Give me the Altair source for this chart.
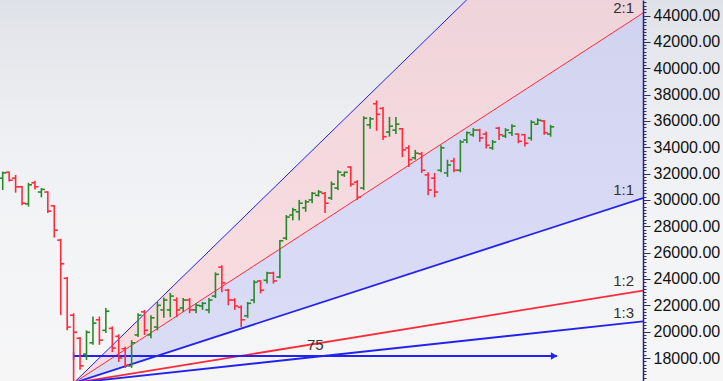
import altair as alt
import numpy as np
import pandas as pd

# ---- price bars (one per session, index counted from the swing low at 0) ----
first_bar = -11
opens = [31650, 32100, 31650, 31000, 29700, 31300, 30600, 30600, 29550, 26950,
         24050, 21250, 19500, 18300, 19150, 20900, 20100, 20250, 19650, 18700,
         17400, 19750, 21500, 19750, 20350, 21650, 21650, 22400, 21800, 22400,
         21650, 21950, 21650, 22700, 24900, 23150, 22400, 21850, 21200, 22400,
         23850, 23900, 24450, 24150, 27100, 28850, 29100, 29400, 30000, 30350,
         30500, 30150, 30900, 31900, 32500, 31350, 30900, 35700, 37300, 36950,
         35150, 35300, 35400, 33950, 33200, 33500, 31900, 31650, 32250, 32050,
         32950, 32250, 34550, 34950, 35300, 35000, 33950, 35450, 34850, 35100,
         35000, 34950, 34700, 35750, 36000, 35000]
highs = [32150, 32150, 31900, 31050, 31300, 31450, 30900, 30650, 29600, 27050,
         24150, 21400, 19600, 20100, 21150, 21150, 21800, 20400, 19800, 18850,
         19350, 21400, 21650, 21250, 22250, 22600, 22950, 22600, 22550, 22550,
         22150, 22250, 22550, 24500, 25050, 23250, 22550, 22000, 22250, 23900,
         23900, 24550, 24550, 26950, 28850, 29400, 30000, 30000, 30600, 30750,
         30600, 31400, 32250, 32150, 32550, 31500, 36350, 36300, 37550, 37050,
         36300, 36300, 35450, 34150, 33800, 33650, 32100, 32050, 34150, 33050,
         33200, 34550, 35200, 35450, 35400, 35200, 34550, 35550, 35450, 35750,
         35050, 35000, 36050, 36200, 36050, 35700]
lows = [30750, 31400, 30550, 29600, 29500, 30800, 30200, 29000, 27150, 21250,
        20100, 16100, 17100, 17850, 19000, 19000, 19900, 18450, 17700, 17250,
        17250, 19600, 19750, 19500, 20100, 21050, 21100, 21100, 21500, 21400,
        21400, 21650, 21400, 22550, 23000, 22000, 21650, 20350, 21050, 22150,
        22900, 23650, 23650, 24050, 26950, 28450, 28450, 29100, 29750, 30250,
        29000, 30000, 30750, 31750, 31000, 30000, 30750, 35400, 35250, 34550,
        34800, 35000, 33250, 32500, 33050, 32050, 30350, 30200, 32100, 31750,
        32100, 32100, 34300, 34800, 34400, 33900, 33800, 34550, 34700, 34850,
        34300, 34050, 34500, 35700, 34950, 34800]
closes = [32050, 31500, 31000, 29750, 31150, 31000, 30800, 29150, 27700, 25150,
          20350, 19950, 17400, 19950, 20650, 19350, 21550, 18750, 18000, 17450,
          19150, 21250, 20100, 21050, 22000, 22400, 22700, 21650, 22400, 21650,
          22000, 22150, 22400, 24350, 23700, 22400, 21950, 20900, 22150, 23750,
          23150, 24450, 23850, 26900, 28700, 29250, 29750, 29850, 30500, 30600,
          29750, 31200, 32100, 32100, 31200, 30200, 36200, 36150, 36500, 34800,
          35600, 35750, 33800, 33050, 33550, 32250, 30750, 30600, 33950, 32650,
          32250, 34400, 35100, 35300, 34700, 34150, 34400, 34950, 35300, 35600,
          34450, 34300, 35900, 36050, 35100, 35550]

# ---- Gann fan anchored at the swing low ----
fan_anchor_bar = 0
fan_anchor_price = 16100
fan_unit = 159  # price per bar on the 1:1 line
fan_names = ["3:1", "2:1", "1:1", "1:2", "1:3"]
fan_ratios = [3, 2, 1, 1 / 2, 1 / 3]
labelled_fans = ["2:1", "1:1", "1:2", "1:3"]
# vertical nudge of each fan label above its line end (pixels)
fan_label_dy = {"2:1": 3, "1:1": 0, "1:2": -2, "1:3": 0}

# ---- bar-count ruler ----
ruler_start, ruler_bars, ruler_price = 0, 75, 18150

# ---- visible window ----
K_MIN, K_MAX = -11.42, 88.33
P_MIN, P_MAX = 16254, 45177
W, H, AXIS_W = 643, 381, 80

BLUE = "#2323f0"
RED = "#ff2a3a"
GREEN = "#278a27"

xs = alt.Scale(domain=[K_MIN, K_MAX], nice=False, zero=False)
ys = alt.Scale(domain=[P_MIN, P_MAX], nice=False, zero=False)

axis_values = list(range(16250, 45001, 250))
y_axis = alt.Axis(
    orient="right", values=axis_values, zindex=2,
    labelExpr="datum.value % 2000 == 0 ? format(datum.value, '.2f') : ''",
    tickSize={"condition": {"test": "datum.value % 2000 == 0", "value": 7}, "value": 3},
    tickColor="#30305a", tickWidth=1, domainColor="#24248a", domainWidth=1.5,
    labelFont="Liberation Sans", labelFontSize=16, labelColor="#111111",
    labelPadding=3, labelOverlap=False, labelFlush=False, grid=False, title=None,
)


def X(field):
    return alt.X(field, type="quantitative", scale=xs, axis=None)


def Y(field):
    return alt.Y(field, type="quantitative", scale=ys, axis=y_axis)


def fan_at(ratio, kk):
    return fan_anchor_price + ratio * fan_unit * (kk - fan_anchor_bar)


bars = pd.DataFrame({
    "k": np.arange(first_bar, first_bar + len(opens)),
    "open": opens, "high": highs, "low": lows, "close": closes,
})
bars["kl"] = bars["k"] - 0.55
bars["kr"] = bars["k"] + 0.55
up = bars[bars["close"] >= bars["open"]]
down = bars[bars["close"] < bars["open"]]

bg = alt.Chart(pd.DataFrame({"a": [0]})).mark_rect(
    fill=alt.Gradient(
        gradient="linear", x1=0, x2=0, y1=0, y2=1,
        stops=[alt.GradientStop(color="#dfe2e8", offset=0),
               alt.GradientStop(color="#eceef1", offset=0.3),
               alt.GradientStop(color="#f3f4f6", offset=0.6),
               alt.GradientStop(color="#f6f6f7", offset=1)],
    )
).encode(x=alt.value(0), x2=alt.value(W + AXIS_W), y=alt.value(0), y2=alt.value(H))


def band(lo_ratio, hi_ratio, fill, opacity):
    df = pd.DataFrame({
        "k": [fan_anchor_bar, K_MAX],
        "lo": [fan_at(lo_ratio, fan_anchor_bar), fan_at(lo_ratio, K_MAX)],
        "hi": [fan_at(hi_ratio, fan_anchor_bar), fan_at(hi_ratio, K_MAX)],
    })
    return alt.Chart(df).mark_area(clip=True, fill=fill, fillOpacity=opacity).encode(
        x=X("k"), y=Y("lo"), y2="hi",
    )


def fan_line(ratio, color, width):
    df = pd.DataFrame({"k": [fan_anchor_bar, K_MAX],
                       "price": [fan_at(ratio, fan_anchor_bar), fan_at(ratio, K_MAX)]})
    return alt.Chart(df).mark_line(clip=True, color=color, strokeWidth=width).encode(
        x=X("k"), y=Y("price"),
    )


fan_styles = {"3:1": (BLUE, 1.0), "2:1": (RED, 1.0), "1:1": (BLUE, 1.8),
              "1:2": (RED, 1.8), "1:3": (BLUE, 1.8)}
fan_layers = [fan_line(r, *fan_styles[n]) for n, r in zip(fan_names, fan_ratios)]


def fan_label(name, ratio):
    df = pd.DataFrame({"name": [name], "k": [K_MAX], "price": [fan_at(ratio, K_MAX)]})
    return alt.Chart(df).mark_text(
        align="right", baseline="bottom", dx=-9, dy=fan_label_dy[name],
        font="Liberation Sans", fontSize=15, color="#333333",
    ).encode(x=X("k"), y=Y("price"), text="name:N")


fan_texts = [fan_label(n, r) for n, r in zip(fan_names, fan_ratios) if n in labelled_fans]


def ohlc(df, color):
    base = alt.Chart(df)
    hl = base.mark_rule(strokeWidth=1.6, clip=True, color=color).encode(
        x=X("k"), y=Y("low"), y2="high")
    o = base.mark_rule(strokeWidth=1.6, clip=True, color=color).encode(
        x=X("kl"), x2="k", y=Y("open"))
    c = base.mark_rule(strokeWidth=1.6, clip=True, color=color).encode(
        x=X("k"), x2="kr", y=Y("close"))
    return [hl, o, c]


ruler = pd.DataFrame({"k": [ruler_start], "k2": [ruler_start + ruler_bars],
                      "price": [ruler_price], "mid": [ruler_start + ruler_bars / 2],
                      "label": [str(ruler_bars)]})
ruler_line = alt.Chart(ruler).mark_rule(color=BLUE, strokeWidth=1.8).encode(
    x=X("k"), x2="k2", y=Y("price"))
ruler_head = alt.Chart(ruler).mark_point(
    shape="triangle-right", filled=True, size=55, color=BLUE, opacity=1, xOffset=-3,
).encode(x=X("k2"), y=Y("price"))
ruler_end = alt.Chart(ruler).mark_tick(
    orient="vertical", color=BLUE, thickness=1.6, size=8,
).encode(x=X("k"), y=Y("price"))
ruler_text = alt.Chart(ruler).mark_text(
    baseline="bottom", dy=-3, font="Liberation Sans", fontSize=15, color="#333333",
).encode(x=X("mid"), y=Y("price"), text="label:N")

chart = alt.layer(
    bg,
    band(2, 3, "#f8c9d0", 0.6),
    band(1, 2, "#c2c4f4", 0.55),
    *fan_layers,
    ruler_line, ruler_head, ruler_end,
    *ohlc(up, GREEN), *ohlc(down, RED),
    *fan_texts, ruler_text,
).properties(
    width=W, height=H,
    padding={"left": 0, "top": 0, "right": AXIS_W, "bottom": 0},
    autosize=alt.AutoSizeParams(type="none"),
    background="#f4f5f7",
).configure_view(strokeOpacity=0)

chart.save("out.html", embed_options={"renderer": "svg", "actions": False})
